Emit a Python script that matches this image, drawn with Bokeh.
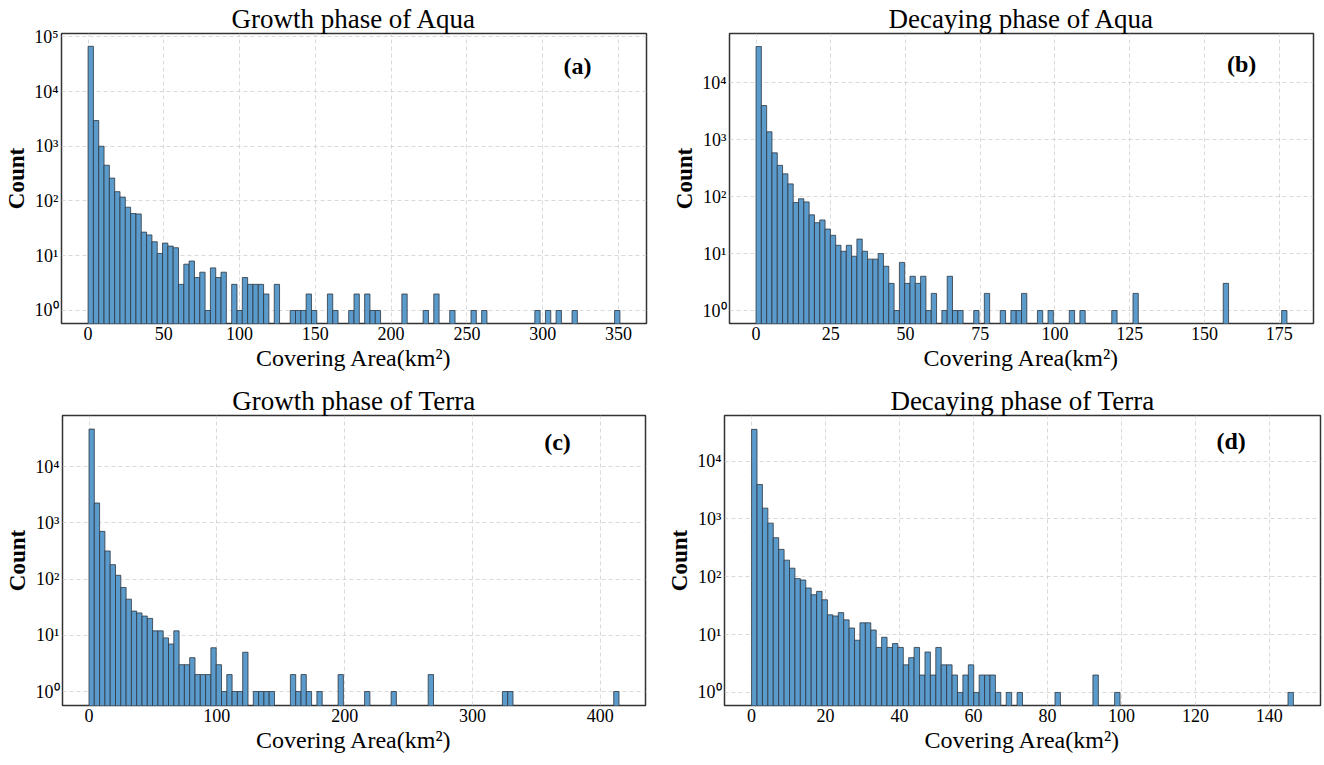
import numpy as np
from bokeh.plotting import figure
from bokeh.layouts import column, row
from bokeh.models import FixedTicker, Label, ColumnDataSource, Range1d
from bokeh.embed import file_html
from bokeh.resources import INLINE

SERIF = "Liberation Serif"

# ---------------- data ----------------
titles = ["Growth phase of Aqua", "Decaying phase of Aqua",
          "Growth phase of Terra", "Decaying phase of Terra"]
panel_tags = ["(a)", "(b)", "(c)", "(d)"]
x_label = "Covering Area(km²)"
y_label = "Count"

# largest covering area of each sample (histograms use 100 equal bins from 0)
max_area_a = 351.0
max_area_b = 177.6
max_area_c = 414.6
max_area_d = 146.5

counts_a = [67000, 2950, 1000, 450, 262, 148, 118, 77, 59, 58,
            27, 24, 18, 11, 17, 15, 14, 3, 7, 8,
            4, 5, 1, 6, 4, 5, 0, 3, 1, 4,
            3, 3, 3, 2, 0, 3, 0, 0, 1, 1,
            1, 2, 1, 0, 0, 2, 1, 0, 0, 1,
            2, 0, 2, 1, 1, 0, 0, 0, 0, 2,
            0, 0, 0, 1, 0, 2, 0, 0, 1, 0,
            0, 0, 1, 0, 1, 0, 0, 0, 0, 0,
            0, 0, 0, 0, 1, 0, 1, 0, 1, 0,
            0, 1, 0, 0, 0, 0, 0, 0, 0, 1]

counts_b = [43500, 4000, 1380, 590, 356, 252, 168, 79, 92, 81,
            48, 35, 39, 27, 21, 14, 11, 14, 9, 18,
            11, 8, 8, 10, 6, 3, 1, 7, 3, 4,
            3, 4, 1, 2, 0, 1, 4, 1, 1, 0,
            0, 1, 0, 2, 0, 0, 1, 0, 1, 1,
            2, 0, 0, 1, 0, 1, 0, 0, 0, 1,
            0, 1, 0, 0, 0, 0, 0, 1, 0, 0,
            0, 2, 0, 0, 0, 0, 0, 0, 0, 0,
            0, 0, 0, 0, 0, 0, 0, 0, 3, 0,
            0, 0, 0, 0, 0, 0, 0, 0, 0, 1]

counts_c = [46800, 2260, 708, 317, 181, 117, 71, 44, 27, 25,
            22, 20, 12, 12, 9, 7, 12, 3, 3, 4,
            2, 2, 2, 6, 3, 1, 2, 1, 1, 5,
            0, 1, 1, 1, 1, 0, 0, 0, 2, 1,
            2, 1, 0, 1, 0, 0, 0, 2, 0, 0,
            0, 0, 1, 0, 0, 0, 0, 1, 0, 0,
            0, 0, 0, 0, 2, 0, 0, 0, 0, 0,
            0, 0, 0, 0, 0, 0, 0, 0, 1, 1,
            0, 0, 0, 0, 0, 0, 0, 0, 0, 0,
            0, 0, 0, 0, 0, 0, 0, 0, 0, 1]

counts_d = [35500, 3950, 1540, 848, 474, 298, 194, 141, 93, 88,
            64, 49, 56, 40, 22, 21, 24, 18, 13, 8,
            16, 16, 12, 6, 9, 6, 7, 6, 3, 4,
            6, 2, 5, 2, 6, 3, 3, 2, 1, 2,
            3, 1, 2, 2, 2, 1, 0, 1, 0, 1,
            0, 0, 0, 0, 0, 0, 1, 0, 0, 0,
            0, 0, 0, 2, 0, 0, 0, 1, 0, 0,
            0, 0, 0, 0, 0, 0, 0, 0, 0, 0,
            0, 0, 0, 0, 0, 0, 0, 0, 0, 0,
            0, 0, 0, 0, 0, 0, 0, 0, 0, 1]

x_ticks_a = [0, 50, 100, 150, 200, 250, 300, 350]
x_ticks_b = [0, 25, 50, 75, 100, 125, 150, 175]
x_ticks_c = [0, 100, 200, 300, 400]
x_ticks_d = [0, 20, 40, 60, 80, 100, 120, 140]

y_ticks = [1, 10, 100, 1000, 10000, 100000]
y_tick_labels = ["10⁰", "10¹", "10²", "10³", "10⁴", "10⁵"]

# log10 limits of the count axes
y_log_lim_a = (-0.238, 5.06)
y_log_lim_b = (-0.228, 4.868)
y_log_lim_c = (-0.249, 4.912)
y_log_lim_d = (-0.226, 4.79)

BAR_FILL = "#5a9bcc"
BAR_LINE = "#2e3640"
FRAME = "#333333"


def make_panel(title, tag, counts, max_area, x_ticks, ylim, tag_pos,
               width, height, borders):
    counts = np.asarray(counts, dtype=float)
    edges = np.linspace(0.0, max_area, len(counts) + 1)
    nz = counts > 0
    src = ColumnDataSource(dict(left=edges[:-1][nz], right=edges[1:][nz],
                                top=counts[nz], bottom=np.full(nz.sum(), 1e-3)))
    pad = 0.05 * max_area
    xr = Range1d(-pad, max_area + pad)
    yr = Range1d(10 ** ylim[0], 10 ** ylim[1])
    p = figure(width=width, height=height, x_range=xr, y_range=yr,
               y_axis_type="log", output_backend="svg", toolbar_location=None,
               min_border_left=borders[0], min_border_right=borders[1],
               min_border_top=borders[2], min_border_bottom=borders[3])
    p.quad(left="left", right="right", top="top", bottom="bottom", source=src,
           fill_color=BAR_FILL, fill_alpha=1.0, line_color=BAR_LINE,
           line_width=0.8)

    p.title.text = title
    p.title.align = "center"
    p.title.text_font = SERIF
    p.title.text_font_size = "27px"
    p.title.text_font_style = "normal"
    p.title.text_color = "black"
    p.title.text_line_height = 0.9
    p.title.standoff = 0

    p.xaxis.ticker = FixedTicker(ticks=x_ticks)
    p.yaxis.ticker = FixedTicker(ticks=y_ticks)
    p.yaxis.major_label_overrides = {t: l for t, l in zip(y_ticks, y_tick_labels)}
    for ax in (p.xaxis, p.yaxis):
        ax.major_label_text_font = SERIF
        ax.major_label_text_font_size = "18px"
        ax.major_label_text_color = "black"
        ax.axis_label_text_font = SERIF
        ax.axis_label_text_color = "black"
        ax.major_tick_in = 0
        ax.major_tick_out = 0
        ax.minor_tick_line_color = None
        ax.axis_line_color = None
        ax.major_label_standoff = 3
        ax.axis_label_standoff = 2
    p.xaxis.axis_label = x_label
    p.xaxis.axis_label_text_font_size = "24px"
    p.xaxis.axis_label_text_font_style = "normal"
    p.yaxis.axis_label = y_label
    p.yaxis.axis_label_text_font_size = "23px"
    p.yaxis.axis_label_text_font_style = "bold"
    p.yaxis.major_label_orientation = "horizontal"

    p.xgrid.grid_line_color = "#cfcfcf"
    p.ygrid.grid_line_color = "#cfcfcf"
    p.xgrid.grid_line_dash = "4 3"
    p.ygrid.grid_line_dash = "4 3"
    p.xgrid.grid_line_width = 0.8
    p.ygrid.grid_line_width = 0.8

    p.outline_line_color = FRAME
    p.outline_line_width = 1.5
    p.background_fill_color = "white"
    p.border_fill_color = "white"

    lx = xr.start + tag_pos[0] * (xr.end - xr.start)
    ly = 10 ** (ylim[0] + tag_pos[1] * (ylim[1] - ylim[0]))
    p.add_layout(Label(x=lx, y=ly, text=tag, text_font=SERIF,
                       text_font_size="24px", text_font_style="bold",
                       text_align="center", text_baseline="middle",
                       text_color="black"))
    return p


pa = make_panel(titles[0], panel_tags[0], counts_a, max_area_a, x_ticks_a,
                y_log_lim_a, (0.882, 0.887), 664, 378, (61, 18, 33, 55))
pb = make_panel(titles[1], panel_tags[1], counts_b, max_area_b, x_ticks_b,
                y_log_lim_b, (0.877, 0.895), 659, 378, (65, 10, 33, 55))
pc = make_panel(titles[2], panel_tags[2], counts_c, max_area_c, x_ticks_c,
                y_log_lim_c, (0.849, 0.907), 664, 386, (62, 19, 37, 59))
pd = make_panel(titles[3], panel_tags[3], counts_d, max_area_d, x_ticks_d,
                y_log_lim_d, (0.85, 0.912), 659, 386, (57, 3, 32, 56))

layout = column(row(pa, pb), row(pc, pd))
open("out.html", "w").write(file_html(layout, INLINE))
